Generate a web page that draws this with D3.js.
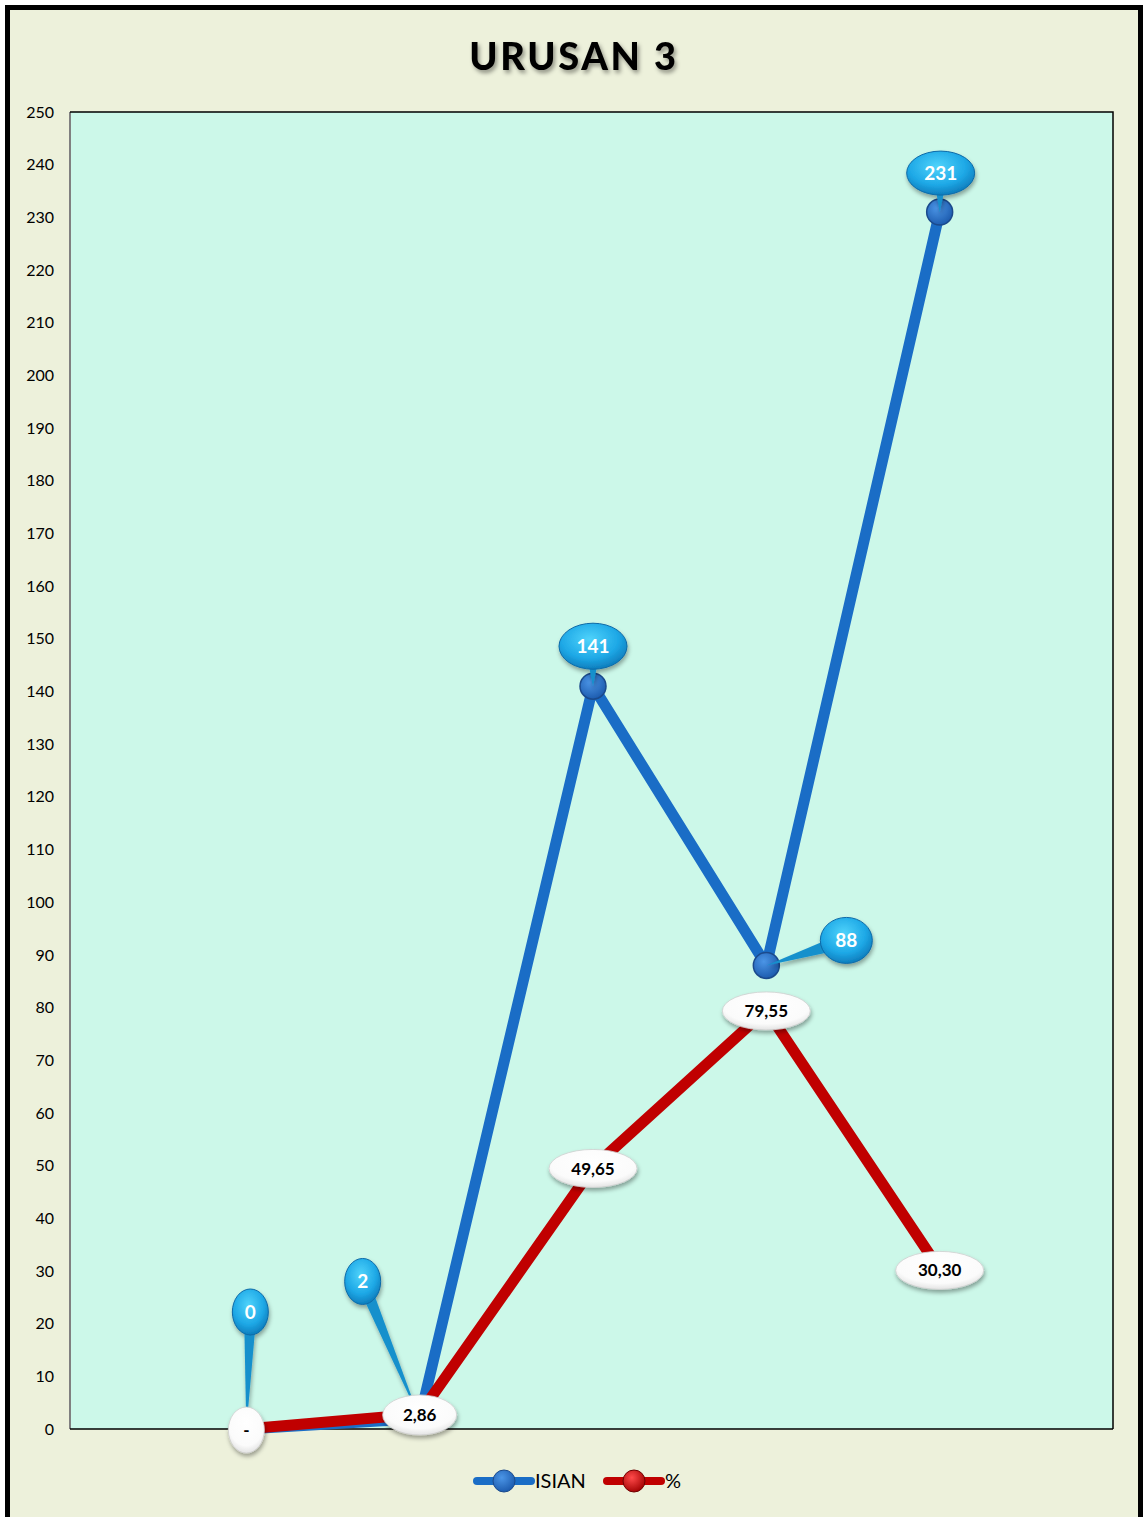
<!DOCTYPE html>
<html><head><meta charset="utf-8">
<script src="https://cdn.jsdelivr.net/npm/d3@7/dist/d3.min.js"></script>
<style>body{margin:0;background:#fff}svg{display:block}</style>
</head><body>
<script>
const categories = ["1", "2", "3", "4", "5"];
const isianValues = [0, 2, 141, 88, 231];
const persenValues = [0, 2.86, 49.65, 79.55, 30.30];
const persenLabels = ["-", "2,86", "49,65", "79,55", "30,30"];
const isianLabels = ["0", "2", "141", "88", "231"];
const yTicks = d3.range(0, 251, 10);
const title = "URUSAN 3";
const seriesNames = ["ISIAN", "%"];

// layout of callouts (pixel offsets from point)
const isianCallout = [
  {dx: 4, dy: -117, rx: 18, ry: 23},
  {dx: -57, dy: -137, rx: 18, ry: 23},
  {dx: 0, dy: -40, rx: 34, ry: 23},
  {dx: 80, dy: -25, rx: 26, ry: 23},
  {dx: 1, dy: -39, rx: 34, ry: 22}
];
const persenCallout = [
  {rx: 18, ry: 23}, {rx: 37, ry: 20}, {rx: 44, ry: 19}, {rx: 44, ry: 19}, {rx: 44, ry: 19}
];

(function(){
const W = 1145, H = 1517;
const svg = d3.select("body").append("svg").attr("width", W).attr("height", H);
const defs = svg.append("defs");

const bb = defs.append("radialGradient").attr("id","bubble").attr("cx","45%").attr("cy","35%").attr("r","70%");
bb.append("stop").attr("offset","0%").attr("stop-color","#4fd3fb");
bb.append("stop").attr("offset","60%").attr("stop-color","#1ea8e6");
bb.append("stop").attr("offset","100%").attr("stop-color","#0a74b4");
const mb = defs.append("radialGradient").attr("id","bmark").attr("cx","40%").attr("cy","35%").attr("r","70%");
mb.append("stop").attr("offset","0%").attr("stop-color","#4b95e6");
mb.append("stop").attr("offset","100%").attr("stop-color","#1a58ab");
const mr = defs.append("radialGradient").attr("id","rmark").attr("cx","40%").attr("cy","35%").attr("r","70%");
mr.append("stop").attr("offset","0%").attr("stop-color","#ff4a4a");
mr.append("stop").attr("offset","100%").attr("stop-color","#a00000");
const wg = defs.append("radialGradient").attr("id","wlab").attr("cx","50%").attr("cy","35%").attr("r","70%");
wg.append("stop").attr("offset","0%").attr("stop-color","#ffffff");
wg.append("stop").attr("offset","70%").attr("stop-color","#fbfbfb");
wg.append("stop").attr("offset","100%").attr("stop-color","#dcdcdc");
const sh = defs.append("filter").attr("id","shadow").attr("x","-30%").attr("y","-30%").attr("width","160%").attr("height","180%");
sh.append("feDropShadow").attr("dx",1).attr("dy",3).attr("stdDeviation",2).attr("flood-color","#000").attr("flood-opacity",0.35);
const ts = defs.append("filter").attr("id","tshadow").attr("x","-10%").attr("y","-30%").attr("width","120%").attr("height","180%");
ts.append("feDropShadow").attr("dx",2).attr("dy",3).attr("stdDeviation",2).attr("flood-color","#000").attr("flood-opacity",0.4);

svg.append("rect").attr("x",0).attr("y",0).attr("width",W).attr("height",H).attr("fill","#fff");
svg.append("rect").attr("x",7.5).attr("y",7.5).attr("width",1133).attr("height",1600)
  .attr("fill","#edf1db").attr("stroke","#000").attr("stroke-width",5);

svg.append("text").attr("x",574).attr("y",70).attr("text-anchor","middle")
  .attr("font-family","Lato, 'Open Sans', sans-serif").attr("font-weight","900").attr("font-size",38)
  .attr("letter-spacing",2.6).attr("fill","#000").attr("filter","url(#tshadow)").text(title);

const pL = 70, pR = 1113, pT = 112, pB = 1429;
const x = d3.scalePoint().domain(categories).range([pL + 3, pR]).padding(1);
const y = d3.scaleLinear().domain([0, 250]).range([pB, pT]);

svg.append("rect").attr("x",pL).attr("y",pT).attr("width",pR-pL).attr("height",pB-pT).attr("fill","#ccf8e9");
svg.append("path").attr("d",`M${pL},${pB}V${pT}`).attr("stroke","#808080").attr("stroke-width",2).attr("fill","none");
svg.append("path").attr("d",`M${pL},${pT}H${pR}V${pB}`).attr("stroke","#000").attr("stroke-width",1.5).attr("fill","none");
svg.append("path").attr("d",`M${pL},${pB}H${pR}`).attr("stroke","#000").attr("stroke-width",1.5).attr("fill","none");

const yAxis = d3.axisLeft(y).tickValues(yTicks).tickSize(0).tickPadding(16);
const ga = svg.append("g").attr("transform",`translate(${pL},0)`).call(yAxis);
ga.select(".domain").remove();
ga.selectAll("text").attr("font-family","Lato, 'Open Sans', sans-serif").attr("font-size",16).attr("fill","#000");

const line = d3.line().x((d,i)=>x(categories[i])).y(d=>y(d));

svg.append("path").datum(isianValues).attr("d",line).attr("fill","none")
  .attr("stroke","#1a6dc6").attr("stroke-width",11).attr("stroke-linejoin","round");
svg.selectAll(".bm").data(isianValues).enter().append("circle")
  .attr("cx",(d,i)=>x(categories[i])).attr("cy",d=>y(d)).attr("r",13)
  .attr("fill","url(#bmark)").attr("stroke","#1b4a8c").attr("stroke-width",1.5);

svg.append("path").datum(persenValues).attr("d",line).attr("fill","none")
  .attr("stroke","#c00000").attr("stroke-width",11).attr("stroke-linejoin","round");
svg.selectAll(".rm").data(persenValues).enter().append("circle")
  .attr("cx",(d,i)=>x(categories[i])).attr("cy",d=>y(d)).attr("r",12)
  .attr("fill","url(#rmark)").attr("stroke","#700000").attr("stroke-width",1);

isianValues.forEach((v,i)=>{
  const px = x(categories[i]), py = y(v);
  const c = isianCallout[i];
  const cx = px + c.dx, cy = py + c.dy;
  const ang = Math.atan2(py-cy, px-cx);
  const w = Math.min(c.rx, c.ry) * 0.35;
  const nx = -Math.sin(ang)*w, ny = Math.cos(ang)*w;
  const g = svg.append("g").attr("filter","url(#shadow)");
  g.append("path").attr("d",`M${cx+nx},${cy+ny}L${px},${py}L${cx-nx},${cy-ny}Z`).attr("fill","#1590cc");
  g.append("ellipse").attr("cx",cx).attr("cy",cy).attr("rx",c.rx).attr("ry",c.ry)
    .attr("fill","url(#bubble)").attr("stroke","#0d6aa8").attr("stroke-width",1);
  svg.append("text").attr("x",cx).attr("y",cy).attr("dy","0.36em").attr("text-anchor","middle")
    .attr("font-family","Lato, 'Open Sans', sans-serif").attr("font-weight","bold").attr("font-size",19)
    .attr("fill","#fff").text(isianLabels[i]);
});

persenValues.forEach((v,i)=>{
  const px = x(categories[i]), py = y(v) + 1;
  const c = persenCallout[i];
  svg.append("ellipse").attr("cx",px).attr("cy",py).attr("rx",c.rx).attr("ry",c.ry)
    .attr("fill","url(#wlab)").attr("stroke","#cfcfcf").attr("stroke-width",0.8).attr("filter","url(#shadow)");
  svg.append("text").attr("x",px).attr("y",py).attr("dy","0.36em").attr("text-anchor","middle")
    .attr("font-family","Lato, 'Open Sans', sans-serif").attr("font-weight","bold").attr("font-size",17)
    .attr("fill","#000").text(persenLabels[i]);
});

const lg = svg.append("g");
const items = [{name: seriesNames[0], x: 474, col:"#1a6dc6", m:"url(#bmark)", ms:"#1b4a8c"},
               {name: seriesNames[1], x: 604, col:"#c00000", m:"url(#rmark)", ms:"#700000"}];
items.forEach(it=>{
  lg.append("line").attr("x1",it.x+3).attr("x2",it.x+57).attr("y1",1481).attr("y2",1481)
    .attr("stroke",it.col).attr("stroke-width",8).attr("stroke-linecap","round");
  lg.append("circle").attr("cx",it.x+30).attr("cy",1481).attr("r",11).attr("fill",it.m).attr("stroke",it.ms).attr("stroke-width",1);
  lg.append("text").attr("x",it.x+61).attr("y",1481).attr("dy","0.36em")
    .attr("font-family","Lato, 'Open Sans', sans-serif").attr("font-size",20).attr("fill","#000").text(it.name);
});
})();
</script>
</body></html>
